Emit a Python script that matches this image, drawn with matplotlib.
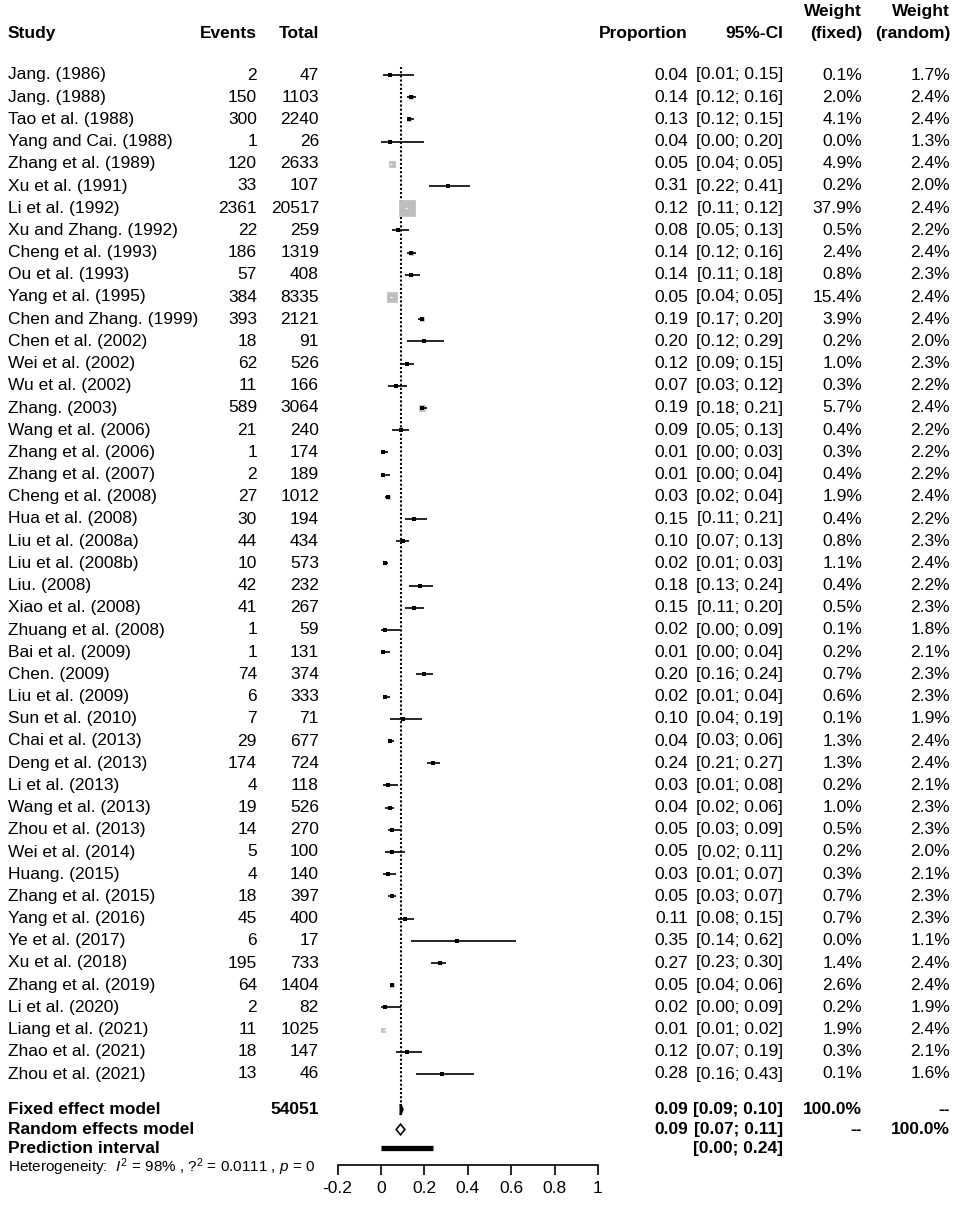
#Forest plot of pooled proportion (meta-analysis)

#Importing the libraries
import numpy as np
import matplotlib
matplotlib.use('Agg')
import matplotlib.pyplot as plt
from matplotlib.transforms import blended_transform_factory

plt.rcParams['font.family'] = ['Liberation Sans', 'DejaVu Sans']
plt.rcParams['mathtext.fontset'] = 'custom'
plt.rcParams['mathtext.rm'] = 'Liberation Sans'
plt.rcParams['mathtext.it'] = 'Liberation Sans:italic'

#The data
studies = ['Jang. (1986)', 'Jang. (1988)', 'Tao et al. (1988)', 'Yang and Cai. (1988)',
           'Zhang et al. (1989)', 'Xu et al. (1991)', 'Li et al. (1992)', 'Xu and Zhang. (1992)',
           'Cheng et al. (1993)', 'Ou et al. (1993)', 'Yang et al. (1995)', 'Chen and Zhang. (1999)',
           'Chen et al. (2002)', 'Wei et al. (2002)', 'Wu et al. (2002)', 'Zhang. (2003)',
           'Wang et al. (2006)', 'Zhang et al. (2006)', 'Zhang et al. (2007)', 'Cheng et al. (2008)',
           'Hua et al. (2008)', 'Liu et al. (2008a)', 'Liu et al. (2008b)', 'Liu. (2008)',
           'Xiao et al. (2008)', 'Zhuang et al. (2008)', 'Bai et al. (2009)', 'Chen. (2009)',
           'Liu et al. (2009)', 'Sun et al. (2010)', 'Chai et al. (2013)', 'Deng et al. (2013)',
           'Li et al. (2013)', 'Wang et al. (2013)', 'Zhou et al. (2013)', 'Wei et al. (2014)',
           'Huang. (2015)', 'Zhang et al. (2015)', 'Yang et al. (2016)', 'Ye et al. (2017)',
           'Xu et al. (2018)', 'Zhang et al. (2019)', 'Li et al. (2020)', 'Liang et al. (2021)',
           'Zhao et al. (2021)', 'Zhou et al. (2021)']
events = [2, 150, 300, 1, 120, 33, 2361, 22, 186, 57, 384, 393, 18, 62, 11, 589, 21, 1, 2, 27,
          30, 44, 10, 42, 41, 1, 1, 74, 6, 7, 29, 174, 4, 19, 14, 5, 4, 18, 45, 6, 195, 64, 2, 11, 18, 13]
totals = [47, 1103, 2240, 26, 2633, 107, 20517, 259, 1319, 408, 8335, 2121, 91, 526, 166, 3064,
          240, 174, 189, 1012, 194, 434, 573, 232, 267, 59, 131, 374, 333, 71, 677, 724, 118, 526,
          270, 100, 140, 397, 400, 17, 733, 1404, 82, 1025, 147, 46]
prop = [0.04, 0.14, 0.13, 0.04, 0.05, 0.31, 0.12, 0.08, 0.14, 0.14, 0.05, 0.19, 0.20, 0.12, 0.07,
        0.19, 0.09, 0.01, 0.01, 0.03, 0.15, 0.10, 0.02, 0.18, 0.15, 0.02, 0.01, 0.20, 0.02, 0.10,
        0.04, 0.24, 0.03, 0.04, 0.05, 0.05, 0.03, 0.05, 0.11, 0.35, 0.27, 0.05, 0.02, 0.01, 0.12, 0.28]
ci_lo = [0.01, 0.12, 0.12, 0.00, 0.04, 0.22, 0.11, 0.05, 0.12, 0.11, 0.04, 0.17, 0.12, 0.09, 0.03,
         0.18, 0.05, 0.00, 0.00, 0.02, 0.11, 0.07, 0.01, 0.13, 0.11, 0.00, 0.00, 0.16, 0.01, 0.04,
         0.03, 0.21, 0.01, 0.02, 0.03, 0.02, 0.01, 0.03, 0.08, 0.14, 0.23, 0.04, 0.00, 0.01, 0.07, 0.16]
ci_hi = [0.15, 0.16, 0.15, 0.20, 0.05, 0.41, 0.12, 0.13, 0.16, 0.18, 0.05, 0.20, 0.29, 0.15, 0.12,
         0.21, 0.13, 0.03, 0.04, 0.04, 0.21, 0.13, 0.03, 0.24, 0.20, 0.09, 0.04, 0.24, 0.04, 0.19,
         0.06, 0.27, 0.08, 0.06, 0.09, 0.11, 0.07, 0.07, 0.15, 0.62, 0.30, 0.06, 0.09, 0.02, 0.19, 0.43]
w_fixed = [0.1, 2.0, 4.1, 0.0, 4.9, 0.2, 37.9, 0.5, 2.4, 0.8, 15.4, 3.9, 0.2, 1.0, 0.3, 5.7, 0.4,
           0.3, 0.4, 1.9, 0.4, 0.8, 1.1, 0.4, 0.5, 0.1, 0.2, 0.7, 0.6, 0.1, 1.3, 1.3, 0.2, 1.0, 0.5,
           0.2, 0.3, 0.7, 0.7, 0.0, 1.4, 2.6, 0.2, 1.9, 0.3, 0.1]
w_random = [1.7, 2.4, 2.4, 1.3, 2.4, 2.0, 2.4, 2.2, 2.4, 2.3, 2.4, 2.4, 2.0, 2.3, 2.2, 2.4, 2.2,
            2.2, 2.2, 2.4, 2.2, 2.3, 2.4, 2.2, 2.3, 1.8, 2.1, 2.3, 2.3, 1.9, 2.4, 2.4, 2.1, 2.3, 2.3,
            2.0, 2.1, 2.3, 2.3, 1.1, 2.4, 2.4, 1.9, 2.4, 2.1, 1.6]

total_n = 54051
fixed_est, fixed_lo, fixed_hi = 0.09, 0.09, 0.10
random_est, random_lo, random_hi = 0.09, 0.07, 0.11
pred_lo, pred_hi = 0.00, 0.24
x_ticks = [-0.2, 0, 0.2, 0.4, 0.6, 0.8, 1]
tick_labels = ['-0.2', '0', '0.2', '0.4', '0.6', '0.8', '1']

#Figure and the axes used for the forest part
W, H = 957, 1212
fig = plt.figure(figsize=(W / 100, H / 100), dpi=100)
ax_left, ax_right = 337.6, 598.0
ax = fig.add_axes([ax_left / W, 0, (ax_right - ax_left) / W, 1])
ax.set_xlim(-0.2, 1)
row_px, row0 = 22.2, 75
ax.set_ylim((H - row0) / row_px, -row0 / row_px)
ax.patch.set_alpha(0)
for s in ['top', 'left', 'right']:
    ax.spines[s].set_visible(False)
ax.set_yticks([])

n = len(studies)
y = np.arange(n)
y_fixed, y_random, y_pred, y_het = 46.6, 47.5, 48.35, 49.2
y_head, y_head2 = -1.89, -2.84

#Dotted line at the fixed effect estimate
ax.vlines(fixed_est, -0.35, 46.95, colors='black', linestyles=(0, (1, 1)), lw=1.5, zorder=1)

#Squares and confidence intervals
px_per_unit = (ax_right - ax_left) / 1.2
for i in range(n):
    side_px = 2.44 * np.sqrt(w_fixed[i])
    inside = (ci_hi[i] - ci_lo[i]) * px_per_unit < side_px
    ax.scatter(prop[i], y[i], marker='s', s=3.087 * w_fixed[i], color='#BEBEBE',
               edgecolors='#BEBEBE', linewidths=0.5, zorder=2)
    if inside:
        ax.hlines(y[i], ci_lo[i], ci_hi[i], colors='white', lw=1.0, zorder=3)
    else:
        ax.hlines(y[i], ci_lo[i], ci_hi[i], colors='black', lw=1.2, zorder=3)
        ax.scatter(prop[i], y[i], marker='s', s=5, color='black', linewidths=0, zorder=4)

#Summary diamonds and prediction interval
h = 0.24
ax.fill([fixed_lo, fixed_est, fixed_hi, fixed_est], [y_fixed, y_fixed - h, y_fixed, y_fixed + h],
        facecolor='black', edgecolor='black', lw=1.5, zorder=4)
ax.fill([random_lo, random_est, random_hi, random_est], [y_random, y_random - h, y_random, y_random + h],
        facecolor='white', edgecolor='black', lw=1.2, zorder=4)
ax.hlines(y_pred, pred_lo, pred_hi, colors='black', lw=3.8, zorder=4)

#x axis at the bottom
fs = 12.5
ax.spines['bottom'].set_position(('data', 49.1))
ax.spines['bottom'].set_linewidth(1.2)
ax.set_xticks(x_ticks)
ax.set_xticklabels(tick_labels, fontsize=fs)
ax.tick_params(axis='x', direction='out', length=7.5, width=1.2, pad=4)

#Text columns
tr = blended_transform_factory(fig.transFigure, ax.transData)
col_study, col_ev, col_tot = 8 / W, 257 / W, 319 / W
col_prop, col_ci, col_wf, col_wr = 688 / W, 783 / W, 862 / W, 950 / W

def txt(x, yy, s, ha='right', weight='normal', size=fs):
    ax.text(x, yy, s, transform=tr, ha=ha, va='center', fontsize=size, fontweight=weight)

txt(col_study, y_head, 'Study', ha='left', weight='bold')
txt(col_ev, y_head, 'Events', weight='bold')
txt(col_tot, y_head, 'Total', weight='bold')
txt(col_prop, y_head, 'Proportion', weight='bold')
txt(col_ci, y_head, '95%-CI', weight='bold')
txt(col_wf, y_head2, 'Weight', weight='bold')
txt(col_wf, y_head, '(fixed)', weight='bold')
txt(col_wr, y_head2, 'Weight', weight='bold')
txt(col_wr, y_head, '(random)', weight='bold')

for i in range(n):
    txt(col_study, y[i], studies[i], ha='left')
    txt(col_ev, y[i], str(events[i]))
    txt(col_tot, y[i], str(totals[i]))
    txt(col_prop, y[i], '%.2f' % prop[i])
    txt(col_ci, y[i], '[%.2f; %.2f]' % (ci_lo[i], ci_hi[i]))
    txt(col_wf, y[i], '%.1f%%' % w_fixed[i])
    txt(col_wr, y[i], '%.1f%%' % w_random[i])

txt(col_study, y_fixed, 'Fixed effect model', ha='left', weight='bold')
txt(col_tot, y_fixed, str(total_n), weight='bold')
txt(col_prop, y_fixed, '%.2f' % fixed_est, weight='bold')
txt(col_ci, y_fixed, '[%.2f; %.2f]' % (fixed_lo, fixed_hi), weight='bold')
txt(col_wf, y_fixed, '100.0%', weight='bold')
txt(col_wr, y_fixed, '--', weight='bold')

txt(col_study, y_random, 'Random effects model', ha='left', weight='bold')
txt(col_prop, y_random, '%.2f' % random_est, weight='bold')
txt(col_ci, y_random, '[%.2f; %.2f]' % (random_lo, random_hi), weight='bold')
txt(col_wf, y_random, '--', weight='bold')
txt(col_wr, y_random, '100.0%', weight='bold')

txt(col_study, y_pred, 'Prediction interval', ha='left', weight='bold')
txt(col_ci, y_pred, '[%.2f; %.2f]' % (pred_lo, pred_hi), weight='bold')

txt(col_study, y_het, r'Heterogeneity:  $I^2$ = 98% , ?$^2$ = 0.0111 , $p$ = 0', ha='left', size=11)

fig.savefig('out.png', dpi=100)
